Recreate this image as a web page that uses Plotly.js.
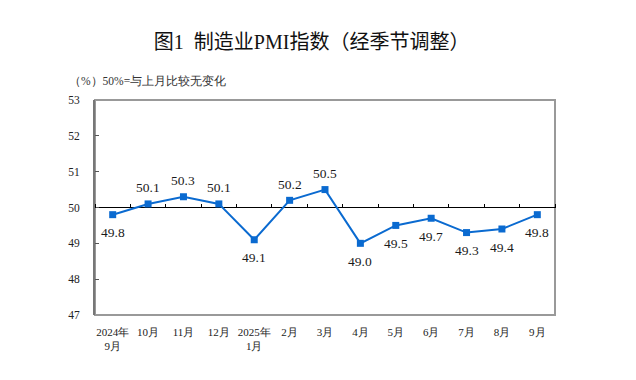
<!DOCTYPE html>
<html><head><meta charset="utf-8">
<script src="https://cdn.plot.ly/plotly-3.0.1.min.js"></script>
<style>html,body{margin:0;padding:0;background:#fff;}#chart{width:636px;height:380px;}</style>
</head><body><div id="chart"></div>
<script>
const categories = ['2024年<br>9月','10月','11月','12月','2025年<br>1月','2月','3月','4月','5月','6月','7月','8月','9月'];
const pmiValues = [49.8, 50.1, 50.3, 50.1, 49.1, 50.2, 50.5, 49.0, 49.5, 49.7, 49.3, 49.4, 49.8];
const labelAbove = [false, true, true, true, false, true, true, false, false, false, false, false, false];
const yTickValues = [47, 48, 49, 50, 51, 52, 53];
const referenceLevel = 50;

const FONT = 'Liberation Serif';
const TITLE_FONT = 'Liberation Serif, Noto Sans CJK SC';
const LINE_COLOR = '#0A6AD0';

const traces = [
  {
    type: 'scatter', mode: 'lines+markers', x: categories, y: pmiValues,
    line: {color: LINE_COLOR, width: 2},
    marker: {symbol: 'square', size: 7, color: LINE_COLOR},
    hoverinfo: 'skip', cliponaxis: false
  },
  {
    type: 'scatter', mode: 'markers', x: categories, y: pmiValues, xaxis: 'x2',
    marker: {opacity: 0}, hoverinfo: 'skip', showlegend: false
  }
];

const annotations = pmiValues.map((v, i) => ({
  x: categories[i], y: v, xref: 'x', yref: 'y', text: v.toFixed(1),
  showarrow: false, yshift: labelAbove[i] ? 16 : -18,
  font: {family: FONT, size: 13.5, color: '#1a1a1a'}
}));
annotations.push({
  xref: 'paper', yref: 'paper', x: -0.061, y: 1.088, xanchor: 'left', yanchor: 'middle',
  text: '（%）50%=与上月比较无变化', showarrow: false,
  font: {family: FONT, size: 11.5, color: '#333'}
});

const layout = {
  width: 636, height: 380,
  margin: {l: 95, r: 81, t: 100, b: 65},
  paper_bgcolor: '#fff', plot_bgcolor: '#fff',
  showlegend: false,
  title: {
    text: '图1  制造业PMI指数（经季节调整）',
    x: 0.49, xanchor: 'center', xref: 'container',
    y: 1 - 42/380, yanchor: 'middle', yref: 'container',
    font: {family: TITLE_FONT, size: 20, color: '#111'}
  },
  xaxis: {
    type: 'category', categoryarray: categories, categoryorder: 'array',
    range: [-0.5, 12.5], showline: false, ticks: '', showgrid: false, zeroline: false,
    tickfont: {family: FONT, size: 11, color: '#222'}, ticklabelstandoff: 9
  },
  xaxis2: {
    type: 'category', categoryarray: categories, categoryorder: 'array',
    overlaying: 'x', anchor: 'free', position: 0.5, side: 'top',
    range: [-0.5, 12.5], showline: false,
    ticks: 'outside', ticklen: 4, tickwidth: 1, tickcolor: '#000', tickson: 'boundaries',
    showticklabels: false, showgrid: false, zeroline: false
  },
  yaxis: {
    range: [47, 53], tickvals: yTickValues, ticktext: yTickValues.map(String),
    showline: true, linecolor: '#777', linewidth: 2,
    ticks: 'inside', ticklen: 4, tickcolor: '#555', showgrid: false, zeroline: false,
    tickfont: {family: FONT, size: 11.5, color: '#222'}, ticklabelstandoff: 11
  },
  shapes: [
    {
      type: 'rect', xref: 'paper', yref: 'paper', x0: 0, x1: 1, y0: 0, y1: 1,
      line: {color: '#999', width: 2}, layer: 'below'
    },
    {
      type: 'line', xref: 'paper', yref: 'y', x0: 0, x1: 1, y0: referenceLevel, y1: referenceLevel,
      line: {color: '#000', width: 1}, layer: 'below'
    }
  ],
  annotations: annotations
};

Plotly.newPlot('chart', traces, layout, {staticPlot: true, displayModeBar: false});
</script></body></html>
